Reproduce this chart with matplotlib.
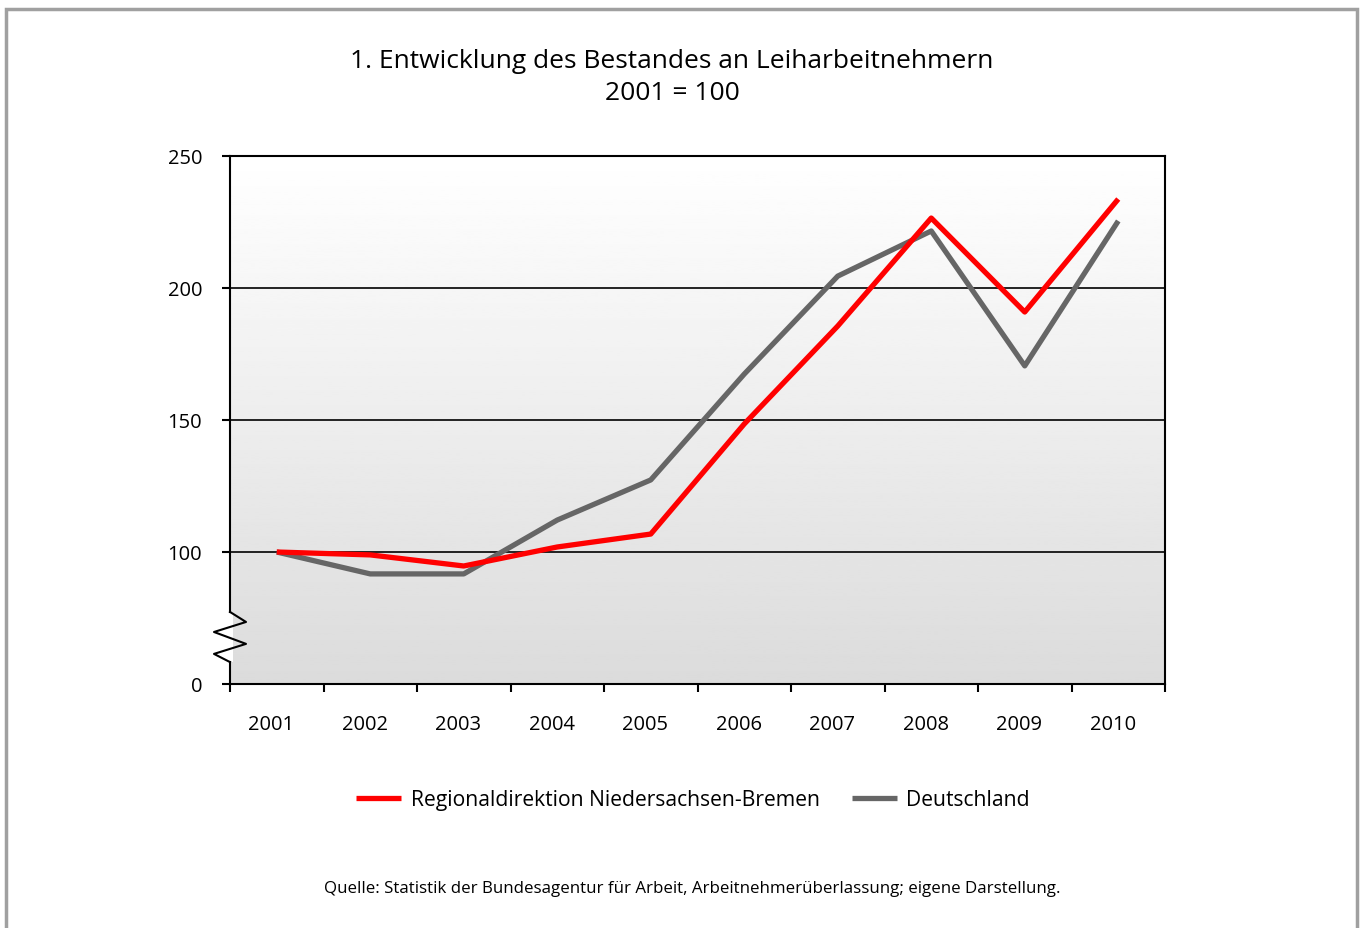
import numpy as np
import matplotlib
matplotlib.use("Agg")
from matplotlib import pyplot as plt
from matplotlib.patches import Rectangle
from matplotlib.lines import Line2D

plt.rcParams['font.family'] = ['Open Sans', 'DejaVu Sans']

years = ['2001', '2002', '2003', '2004', '2005', '2006', '2007', '2008', '2009', '2010']
niedersachsen = [100, 98.9, 94.7, 101.9, 106.8, 148.5, 185.6, 226.5, 190.9, 233.7]
deutschland = [100, 91.7, 91.7, 112.1, 127.3, 167.4, 204.5, 221.6, 170.5, 225.4]
ytick_vals = [50, 100, 150, 200, 250]
ytick_labels = ['0', '100', '150', '200', '250']

fig = plt.figure(figsize=(13.63, 9.29), dpi=100)
W, H = 1363, 929

# outer frame
fig.patches.append(Rectangle((6 / W, -0.01), 1351 / W, 1 - 10 / H + 0.01,
                             transform=fig.transFigure, fill=False,
                             edgecolor='#a0a0a0', linewidth=2.5))

ax = fig.add_axes([230 / W, 1 - 685 / H, 935 / W, 528 / H])
x = np.arange(len(years))

# gradient background
grad = np.linspace(1.0, 0.86, 256).reshape(-1, 1)
ax.imshow(grad, cmap='gray', vmin=0, vmax=1, aspect='auto',
          extent=[-0.5, 9.5, 50, 250], origin='upper', zorder=0)

for yv in [100, 150, 200]:
    ax.axhline(yv, color='black', linewidth=1.2, zorder=1)

ax.plot(x, niedersachsen, color='#ff0000', linewidth=3.8, zorder=3,
        solid_capstyle='butt', label='Regionaldirektion Niedersachsen-Bremen')
ax.plot(x, deutschland, color='#666666', linewidth=3.8, zorder=2,
        solid_capstyle='butt', label='Deutschland')

ax.set_xlim(-0.5, 9.5)
ax.set_ylim(50, 250)
ax.set_yticks(ytick_vals)
ax.set_yticklabels(ytick_labels, fontsize=14.5)
ax.set_xticks(np.arange(-0.5, 10, 1))
ax.set_xticklabels([])
ax.set_xticks(x - 0.06, minor=True)
ax.set_xticklabels(years, minor=True, fontsize=14.5)
ax.tick_params(axis='x', which='minor', length=0, pad=21.5)
ax.tick_params(axis='x', which='major', length=6, width=1.5, direction='out')
ax.tick_params(axis='y', length=6, width=1.5, direction='out', pad=14)
for s in ax.spines.values():
    s.set_linewidth(1.5)
    s.set_zorder(5)

# axis break on the y axis
ax.spines['left'].set_visible(False)
tr = ax.get_yaxis_transform()
ax.add_line(Line2D([0, 0], [250, 77.3], color='black', lw=1.5, transform=tr, clip_on=False, zorder=6))
ax.add_line(Line2D([0, 0], [58.3, 50], color='black', lw=1.5, transform=tr, clip_on=False, zorder=6))
ax.add_patch(Rectangle((0, 58.3), 3 / 935, 19, transform=tr, color='white', clip_on=False, zorder=5, lw=0))
zx = np.array([0, 16, -16, 16, -16, 0]) / 935
zy = [77.3, 73.5, 69.7, 65.2, 61.4, 58.3]
ax.add_line(Line2D(zx, zy, color='black', lw=1.5, transform=tr, clip_on=False, zorder=6))

fig.text(672 / W, 1 - 62 / H, '1. Entwicklung des Bestandes an Leiharbeitnehmern',
         ha='center', va='center', fontsize=19)
fig.text(672 / W, 1 - 94 / H, '2001 = 100', ha='center', va='center', fontsize=19)

fig.legend(loc='center', bbox_to_anchor=(0.5085, 1 - 801 / H), ncol=2, frameon=False,
           fontsize=15.2, handlelength=2.13, handletextpad=0.45, columnspacing=1.5)

fig.text(692 / W, 1 - 889 / H,
         'Quelle: Statistik der Bundesagentur für Arbeit, Arbeitnehmerüberlassung; eigene Darstellung.',
         ha='center', va='center', fontsize=12.2)

fig.savefig('out.png', dpi=100)
